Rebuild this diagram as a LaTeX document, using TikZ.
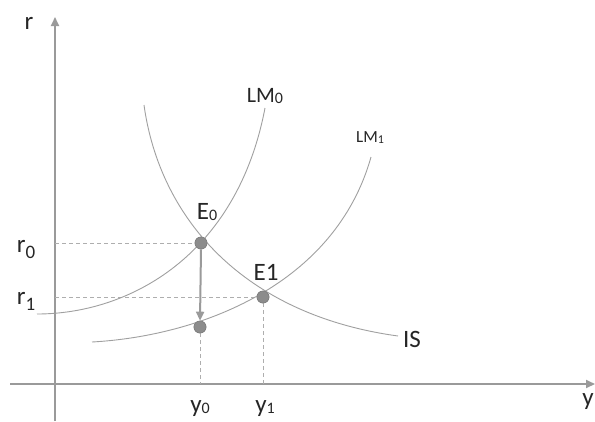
\documentclass[tikz,border=0pt]{standalone}
\usepackage{fontspec}
\setmainfont{Carlito}
\usetikzlibrary{arrows.meta}
\definecolor{axisgray}{HTML}{9A9A9A}
\definecolor{curvegray}{HTML}{A0A0A0}
\definecolor{dotgray}{HTML}{8C8C8C}
\tikzset{
  axisline/.style={draw=axisgray, line width=2pt, -{Triangle[length=9pt,width=8pt]}},
  curveline/.style={draw=curvegray, line width=0.9pt},
  guide/.style={draw=axisgray!80, line width=0.8pt, dash pattern=on 4pt off 3pt},
  eqdot/.style={circle, fill=dotgray, draw=gray, line width=0.6pt, minimum size=12pt, inner sep=0pt},
  lbl/.style={inner sep=0pt, text=black!85, font=\fontsize{25}{28}\selectfont},
  moveline/.style={draw=axisgray, line width=2pt, -{Triangle[length=9pt,width=8pt]}}
}
\newcommand{\sm}[1]{\raisebox{-1pt}{\fontsize{16}{17}\selectfont #1}}
\begin{document}
\begin{tikzpicture}[x=1pt,y=-1pt]
\useasboundingbox (0,0) rectangle (595,421);
\fill[white] (0,0) rectangle (595,421);
% axes
\coordinate (ybot) at (55,421);
\coordinate (ytop) at (55,17);
\coordinate (xleft) at (10,384);
\coordinate (xright) at (595,384);
\draw[axisline] (ybot) -- (ytop);
\draw[axisline] (xleft) -- (xright);
\node[lbl] (rlab) at (29,23) {r};
\node[lbl] (ylab) at (588,402) {y};
% equilibrium points
\node[eqdot] (E0) at (201,243) {};
\node[eqdot] (E1) at (263,297) {};
\node[eqdot] (P) at (200,327) {};
% axis coordinates
\coordinate (r0ax) at (55,243);
\coordinate (r1ax) at (55,297);
\coordinate (y0ax) at (200,384);
\coordinate (y1ax) at (263,384);
% guides
\draw[guide] (r0ax) -- (E0.center);
\draw[guide] (r1ax) -- (E1.center);
\draw[guide] (P.south) -- (y0ax);
\draw[guide] (E1.south) -- (y1ax);
% curves
\coordinate (lm0s) at (37,314);
\coordinate (lm0e) at (265,108);
\coordinate (lm1s) at (92,342);
\coordinate (lm1e) at (371,157);
\coordinate (iss) at (144,105);
\coordinate (ise) at (398,336);
\draw[curveline] (lm0s) .. controls (130,314) and (237,255) .. (lm0e);
\draw[curveline] (lm1s) .. controls (200,336) and (335,285) .. (lm1e);
\draw[curveline] (iss) .. controls (160,220) and (245,315) .. (ise);
% redraw dots on top
\node[eqdot] at (E0) {};
\node[eqdot] at (E1) {};
\node[eqdot] at (P) {};
% movement arrow
\draw[moveline] (E0.south) -- (P.north);
% labels
\node[lbl, font=\fontsize{22}{24}\selectfont] (lm0lab) at (265,96) {LM\sm{0}};
\node[lbl, font=\fontsize{17}{20}\selectfont] (lm1lab) at (370,138) {LM\raisebox{-1pt}{\fontsize{12}{13}\selectfont 1}};
\node[lbl] (islab) at (412,339) {IS};
\node[lbl] (e0lab) at (207,212) {E\sm{0}};
\node[lbl] (e1lab) at (266,272) {E1};
\node[lbl, anchor=base] (r0lab) at (26,252) {r\raisebox{-6pt}{\fontsize{19}{20}\selectfont 0}};
\node[lbl, anchor=base] (r1lab) at (26,304) {r\raisebox{-6pt}{\fontsize{19}{20}\selectfont 1}};
\node[lbl, anchor=base] (y0lab) at (200,412) {y\sm{0}};
\node[lbl, anchor=base] (y1lab) at (265,412) {y\sm{1}};
\end{tikzpicture}
\end{document}
